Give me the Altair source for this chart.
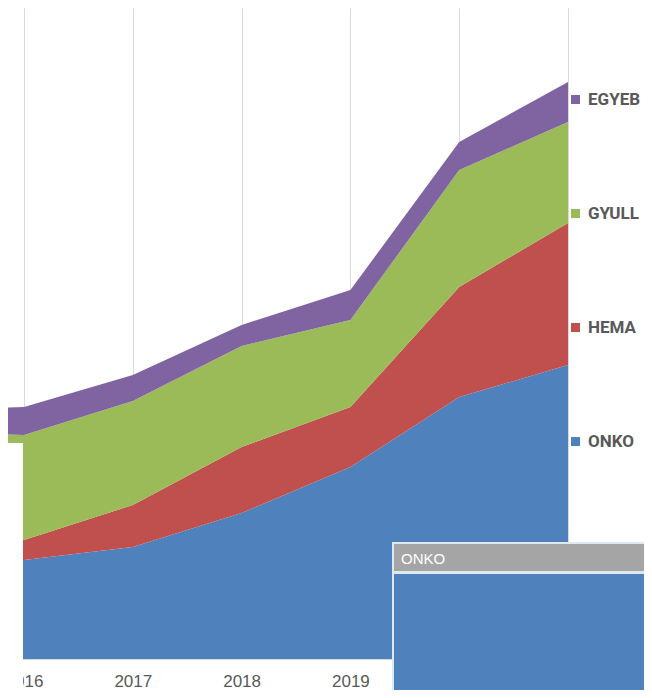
import altair as alt
import pandas as pd

years = [2015, 2016, 2017, 2018, 2019, 2020, 2021]
onko = [95, 99, 112, 146, 192, 262, 294]
hema = [18, 20, 42, 66, 60, 110, 142]
gyull = [115, 105, 104, 101, 87, 117, 101]
egyeb = [20, 28, 26, 21, 30, 28, 40]

series = {"ONKO": onko, "HEMA": hema, "GYULL": gyull, "EGYEB": egyeb}
stack_rank = {"ONKO": 0, "HEMA": 1, "GYULL": 2, "EGYEB": 3}
legend_order = ["EGYEB", "GYULL", "HEMA", "ONKO"]
colors = ["#8064a2", "#9bbb59", "#c0504d", "#4f81bd"]
tick_years = [2016, 2017, 2018, 2019, 2020, 2021]

rows = []
for name, vals in series.items():
    for y, v in zip(years, vals):
        rows.append({"year": y, "cat": name, "value": v, "rank": stack_rank[name]})
df = pd.DataFrame(rows)

W, H = 560, 651
x0 = 2016 - 16 / 108.8

area = alt.Chart(df).mark_area(clip=True).encode(
    x=alt.X("year:Q",
            scale=alt.Scale(domain=[x0, 2021], nice=False, zero=False),
            axis=alt.Axis(values=tick_years, format="d", title=None,
                          grid=True, gridColor="#d9d9d9", gridWidth=1,
                          ticks=False, domain=True, domainColor="#d9d9d9",
                          labelFont="Liberation Sans", labelFontSize=17,
                          labelColor="#595959", labelPadding=14,
                          labelFlush=False, labelOverlap=False)),
    y=alt.Y("value:Q", stack="zero",
            scale=alt.Scale(domain=[0, H], nice=False), axis=None),
    color=alt.Color("cat:N",
                    scale=alt.Scale(domain=legend_order, range=colors),
                    legend=alt.Legend(title=None, orient="none",
                                      legendX=559, legendY=83,
                                      symbolType="square", symbolSize=81,
                                      symbolStrokeWidth=0, rowPadding=96,
                                      labelFont="Roboto",
                                      labelFontSize=17, labelFontWeight="bold",
                                      labelColor="#595959",
                                      labelOffset=4, padding=0)),
    order=alt.Order("rank:Q"),
)

one = pd.DataFrame({"a": [0]})
white_box = alt.Chart(one).mark_rect(color="white").encode(
    x=alt.value(0), x2=alt.value(15), y=alt.value(435), y2=alt.value(700))
box_border = alt.Chart(one).mark_rect(color="#dfe7f2").encode(
    x=alt.value(384), x2=alt.value(650), y=alt.value(534), y2=alt.value(700))
box_head = alt.Chart(one).mark_rect(color="#a5a5a5").encode(
    x=alt.value(386), x2=alt.value(650), y=alt.value(536), y2=alt.value(563))
box_body = alt.Chart(one).mark_rect(color="#4f81bd").encode(
    x=alt.value(386), x2=alt.value(650), y=alt.value(566), y2=alt.value(700))
box_text = alt.Chart(one).mark_text(
    text="ONKO", color="white", font="Liberation Sans", fontSize=15,
    align="left", baseline="middle").encode(x=alt.value(393), y=alt.value(551))

chart = alt.layer(area, white_box, box_border, box_head, box_body, box_text).properties(
    width=W, height=H,
    autosize=alt.AutoSizeParams(type="none"),
    padding={"left": 0, "top": 0, "right": 76, "bottom": 31},
).configure(background="white").configure_view(stroke=None)

chart.save("out.html", embed_options={"renderer": "svg", "actions": False})
